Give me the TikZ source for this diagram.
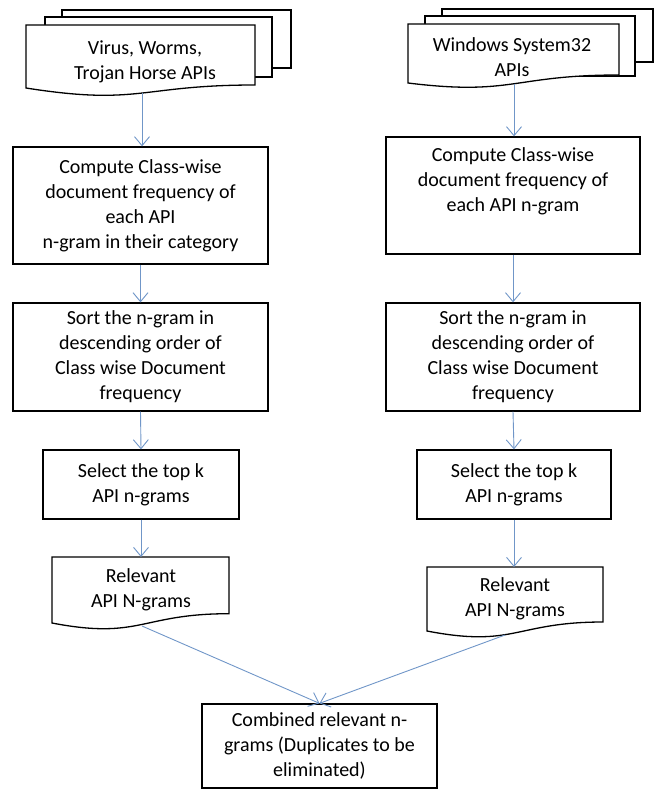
\documentclass[tikz,border=0pt]{standalone}
\usepackage{fontspec}
\setmainfont{Carlito}
\usetikzlibrary{arrows.meta}
\definecolor{arr}{HTML}{7096C8}
\begin{document}
\begin{tikzpicture}[x=1pt,y=-1pt,
  txt/.style={align=center, inner sep=0pt, font=\fontsize{20}{25}\selectfont},
  box/.style={txt, draw=black, line width=1.3pt, fill=white},
  doc/.style={draw=black, line width=1.3pt, fill=white},
  conn/.style={draw=arr, line width=0.9pt, -{Straight Barb[length=9pt,width=15pt]}}]
\useasboundingbox (0,0) rectangle (655,789);

% left multi-document
\draw[doc] (62,10) rectangle (291,68);
\draw[doc] (45,17) rectangle (272,77);
\draw[doc] (26,25) -- (255,25) -- (255,85) .. controls (140,85) and (140,106) .. (26,88) -- cycle;
\node[txt] (vw) at (145,62) {Virus, Worms,\\Trojan Horse APIs};
\coordinate (vwb) at (142,93);

% right multi-document
\draw[doc] (442,9) rectangle (653,62);
\draw[doc] (425,16) rectangle (635,76);
\draw[doc] (408,24) -- (619,24) -- (619,75) .. controls (513,75) and (513,96) .. (408,83) -- cycle;
\node[txt] (ws) at (512,57) {Windows System32\\APIs};
\coordinate (wsb) at (514,84);

% process boxes
\node[box, minimum width=255pt, minimum height=117pt] (L1) at (140.5,205.5)
  {Compute Class-wise\\document frequency of\\each API\\n-gram in their category};
\node[box, minimum width=255pt, minimum height=108pt] (L2) at (140.5,357)
  {Sort the n-gram in\\descending order of\\Class wise Document\\frequency};
\node[box, minimum width=196pt, minimum height=69pt] (L3) at (141,484.5)
  {Select the top k\\API n-grams};

\node[box, minimum width=254pt, minimum height=117pt] (R1) at (513,195.5)
  {Compute Class-wise\\document frequency of\\each API n-gram\\\strut};
\node[box, minimum width=254pt, minimum height=108pt] (R2) at (513,357)
  {Sort the n-gram in\\descending order of\\Class wise Document\\frequency};
\node[box, minimum width=194pt, minimum height=69pt] (R3) at (514,484.5)
  {Select the top k\\API n-grams};

% relevant documents
\draw[doc] (52,557) -- (229,557) -- (229,613.7) .. controls (140.5,613.7) and (140.5,640) .. (52,623) -- cycle;
\node[txt] (RL) at (141,589.5) {Relevant\\API N-grams};
\coordinate (RLt) at (141,557);
\coordinate (RLb) at (142,626);

\draw[doc] (427,567) -- (603,567) -- (603,622) .. controls (515,622) and (515,648) .. (427,631) -- cycle;
\node[txt] (RR) at (515,598.5) {Relevant\\API N-grams};
\coordinate (RRt) at (514,567);
\coordinate (RRb) at (505,635);

% combined
\node[box, minimum width=235pt, minimum height=84pt] (C) at (319.5,746)
  {Combined relevant n-\\grams (Duplicates to be\\eliminated)};

% connectors
\draw[conn] (vwb) -- (vwb |- L1.north);
\draw[conn] (L1.south) -- (L2.north);
\draw[conn] (L2.south) -- (L3.north);
\draw[conn] (L3.south) -- (RLt);
\draw[conn] (RLb) -- (C.north);

\draw[conn] (wsb) -- (wsb |- R1.north);
\draw[conn] (R1.south) -- (R2.north);
\draw[conn] (R2.south) -- (R3.north);
\draw[conn] (R3.south) -- (RRt);
\draw[conn] (RRb) -- (C.north);
\end{tikzpicture}
\end{document}
